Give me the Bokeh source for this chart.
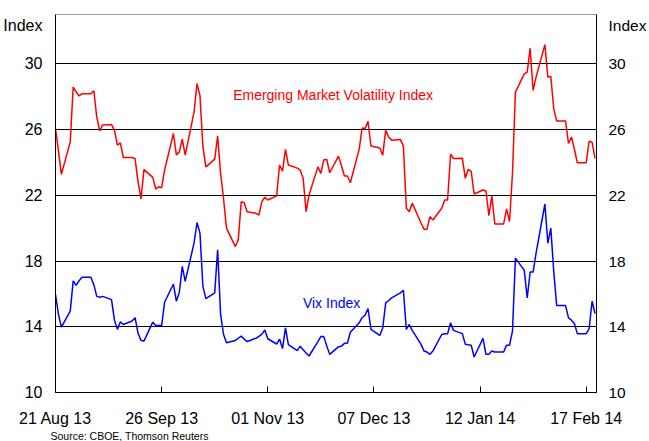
import pandas as pd
from bokeh.plotting import figure
from bokeh.models import (Range1d, LinearAxis, FixedTicker, Label, ColumnDataSource,
                          DatetimeTickFormatter, Title)
from bokeh.embed import file_html
from bokeh.resources import INLINE

# ---------------- data ----------------
start_date = "2013-08-21"
end_date = "2014-02-20"

# Emerging Market Volatility Index, one value per weekday
emvi = [
    # Aug 2013
    26.06, 24.7, 23.27, 25.25, 28.58, 28.3, 28.04, 28.18,
    # Sep 2013
    28.18, 28.36, 26.76, 25.92, 26.28, 26.3, 25.96, 25.05, 25.19, 24.3,
    24.3, 24.22, 22.82, 21.78, 23.56, 23.09, 22.38, 22.52, 22.46, 23.53, 25.76,
    # Oct 2013
    24.46, 24.64, 25.41, 24.44, 27.07, 28.79, 28.08, 24.95, 23.73, 24.2,
    25.61, 23.33, 21.8, 20.0, 18.88, 19.3, 21.61, 21.55, 21.0, 20.9,
    20.8, 21.61, 21.88,
    # Nov 2013
    21.71, 21.96, 23.84, 23.47, 24.79, 23.84, 23.65, 23.53, 23.03, 21.0,
    22.02, 23.73, 23.33, 24.16, 24.18, 23.37, 24.38, 23.8, 23.17, 23.17, 22.76,
    # Dec 2013
    24.79, 26.1, 26.06, 26.5, 25.0, 24.88, 24.44, 25.96, 25.55, 25.35,
    25.39, 24.99, 21.21, 21.0, 21.52, 20.3, 19.94, 19.94, 20.7, 20.5,
    21.21, 21.71,
    # Jan 2014
    21.71, 24.5, 24.24, 24.26, 23.03, 23.58, 23.45, 22.08, 22.32, 22.26,
    20.76, 21.96, 20.26, 20.26, 21.17, 20.4, 23.33, 28.28, 29.39, 29.49,
    30.95, 28.38, 29.19,
    # Feb 2014
    31.17, 29.19, 29.23, 27.27, 26.52, 26.52, 25.15, 25.55, 24.8, 23.98,
    23.98, 25.29, 25.23, 24.24,
]

# VIX Index, one value per weekday
vix = [
    # Aug 2013
    15.96, 14.75, 13.98, 14.95, 16.79, 16.52, 16.8, 17.01,
    # Sep 2013
    17.01, 16.56, 15.85, 15.8, 15.85, 15.65, 14.4, 13.84, 14.3, 14.14,
    14.35, 14.55, 13.6, 13.17, 13.13, 14.28, 14.08, 14.08, 14.08, 15.49, 16.6,
    # Oct 2013
    15.55, 16.1, 17.67, 16.76, 19.1, 20.34, 19.7, 16.46, 15.71, 16.06,
    18.68, 14.75, 13.53, 13.03, 13.17, 13.3, 13.43, 13.25, 13.1, 13.3,
    13.42, 13.55, 13.8,
    # Nov 2013
    13.27, 12.95, 13.25, 12.67, 13.93, 12.92, 12.55, 12.82, 12.6, 12.4,
    12.22, 13.1, 13.4, 13.4, 12.85, 12.32, 12.79, 12.82, 12.99, 12.99, 13.67,
    # Dec 2013
    14.24, 14.55, 14.7, 15.11, 13.84, 13.47, 13.94, 15.45, 15.6, 15.76,
    16.06, 16.22, 13.84, 14.14, 13.78, 12.93, 12.52, 12.46, 12.32, 12.52,
    13.53, 13.57,
    # Jan 2014
    13.57, 14.24, 13.78, 13.58, 12.93, 12.9, 12.88, 12.16, 13.29, 12.32,
    12.32, 12.52, 12.46, 12.46, 12.88, 12.88, 13.73, 18.18, 17.43, 15.76,
    17.33, 17.33, 18.48,
    # Feb 2014
    21.47, 19.09, 20.0, 17.37, 15.29, 15.29, 14.55, 14.4, 14.2, 13.58,
    13.58, 13.88, 15.55, 14.81,
]

y_ticks = [10, 14, 18, 22, 26, 30]
grid_ticks = [14, 18, 22, 26, 30]
x_tick_dates = ["2013-08-21", "2013-09-26", "2013-11-01", "2013-12-07",
                "2014-01-12", "2014-02-17"]

emvi_label = "Emerging Market Volatility Index"
vix_label = "Vix Index"
source_text = "Source: CBOE, Thomson Reuters"
axis_title = "Index"
axis_title_level = 32.35   # where the "Index" heading sits on the value scale

# ---------------- build ----------------
dates = pd.bdate_range(start_date, end_date)
assert len(dates) == len(emvi) == len(vix)
src = ColumnDataSource(dict(date=dates, emvi=emvi, vix=vix))


def ms(ts):
    return pd.Timestamp(ts).value / 1e6


x0 = ms(start_date)
x1 = ms(pd.Timestamp(end_date) + pd.Timedelta(hours=12))

FONT = "Liberation Sans"

p = figure(width=649, height=441, x_axis_type="datetime",
           x_range=Range1d(x0, x1), y_range=Range1d(10, 33),
           output_backend="svg", toolbar_location=None,
           min_border_left=55, min_border_right=51,
           min_border_top=14, min_border_bottom=48)
p.background_fill_color = "white"
p.border_fill_color = "white"
p.outline_line_color = "#a0a0a0"
p.outline_line_width = 1

p.line("date", "emvi", source=src, line_color="#ff0000", line_width=1.5)
p.line("date", "vix", source=src, line_color="#0000ff", line_width=1.5)

# x axis
xax = p.xaxis[0]
xax.ticker = FixedTicker(ticks=[ms(d) for d in x_tick_dates])
fmt = "%d %b %y"
xax.formatter = DatetimeTickFormatter(
    microseconds=fmt, milliseconds=fmt, seconds=fmt, minsec=fmt, minutes=fmt,
    hourmin=fmt, hours=fmt, days=fmt, months=fmt, years=fmt)
xax.major_tick_in = 6
xax.major_tick_out = 0
xax.minor_tick_line_color = None
xax.axis_line_color = "black"
xax.major_tick_line_color = "black"
xax.major_label_text_font = FONT
xax.major_label_text_font_size = "16px"
xax.major_label_text_color = "black"
xax.major_label_standoff = 17

# y axes (left + right); the "Index" heading is an extra labelled tick
yr = LinearAxis()
p.add_layout(yr, "right")
for ax, standoff, size in ((p.yaxis[0], 13, "16px"), (yr, 12, "15.5px")):
    ax.ticker = FixedTicker(ticks=y_ticks + [axis_title_level])
    ax.major_label_overrides = {axis_title_level: axis_title}
    ax.major_tick_in = 0
    ax.major_tick_out = 0
    ax.minor_tick_line_color = None
    ax.axis_line_color = "black"
    ax.major_label_text_font = FONT
    ax.major_label_text_font_size = size
    ax.major_label_text_color = "black"
    ax.major_label_standoff = standoff

p.xgrid.visible = False
p.ygrid.ticker = FixedTicker(ticks=grid_ticks)
p.ygrid.grid_line_color = "black"
p.ygrid.grid_line_width = 1

# series annotations
p.add_layout(Label(x=ms("2013-10-20 06:00"), y=28.13, text=emvi_label,
                   text_align="left", text_baseline="alphabetic", text_font=FONT,
                   text_font_size="14px", text_color="#ff0000"))
p.add_layout(Label(x=ms("2013-11-12 22:00"), y=15.45, text=vix_label,
                   text_align="left", text_baseline="alphabetic", text_font=FONT,
                   text_font_size="14px", text_color="#0000ff"))

# source note below the date axis
p.add_layout(Title(text=source_text, align="left", offset=-5, standoff=-2,
                   vertical_align="middle", text_font=FONT,
                   text_font_size="10.5px", text_font_style="normal",
                   text_color="black"), "below")

open("out.html", "w").write(file_html(p, INLINE))
